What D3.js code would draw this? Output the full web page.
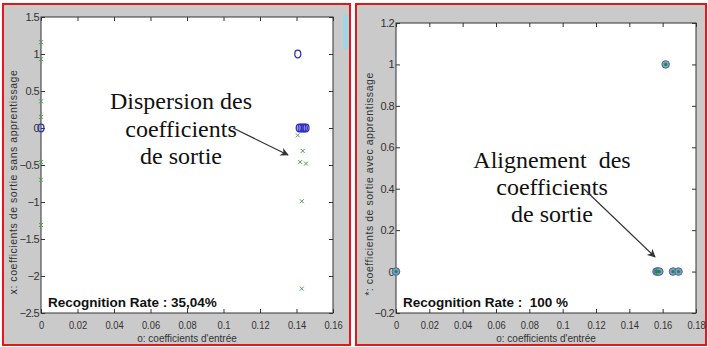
<!DOCTYPE html>
<html>
<head>
<meta charset="utf-8">
<script src="https://cdn.jsdelivr.net/npm/d3@7"></script>
<style>
  body { margin: 0; background: #fff; }
  svg { display: block; }
</style>
</head>
<body>
<svg id="chart" width="708" height="347"></svg>
<script>
// left panel data (without learning)
const leftXTicks = [0, 0.02, 0.04, 0.06, 0.08, 0.1, 0.12, 0.14, 0.16];
const leftYTicks = [1.5, 1, 0.5, 0, -0.5, -1, -1.5, -2, -2.5];
const leftCircles = [[0, 0], [0.1407, 1.0], [0.1415, 0], [0.1425, 0], [0.1435, 0], [0.1443, 0], [0.1452, 0]];
const leftCrosses = [
    [0, 1.16], [0, 0.93], [0, 0.36], [0, 0.15], [0, -0.46], [0, -0.70], [0, -1.31],
    [0.1407, -0.10], [0.1434, -0.31], [0.1420, -0.46], [0.1452, -0.48], [0.1429, -0.99], [0.1429, -2.17]
];

// right panel data (with learning)
const rightXTicks = [0, 0.02, 0.04, 0.06, 0.08, 0.1, 0.12, 0.14, 0.16, 0.18];
const rightYTicks = [1.2, 1, 0.8, 0.6, 0.4, 0.2, 0, -0.2];
const rightPoints = [[0, 0], [0.1618, 1.0], [0.1563, 0], [0.1571, 0], [0.1580, 0], [0.1662, 0], [0.1695, 0]];

const svg = d3.select('#chart');

let defs = svg.append('defs');
defs.append('marker')
    .attr('id', 'arrow')
    .attr('viewBox', '0 0 10 10')
    .attr('refX', 9).attr('refY', 5)
    .attr('markerWidth', 7).attr('markerHeight', 7)
    .attr('orient', 'auto')
  .append('path')
    .attr('d', 'M0,0 L10,5 L0,10 L3,5 Z')
    .attr('fill', '#333');

let drawPanel = (cfg) => {
    let g = svg.append('g');

    // figure background and red frame
    g.append('rect')
        .attr('x', cfg.frame[0]).attr('y', cfg.frame[1])
        .attr('width', cfg.frame[2]).attr('height', cfg.frame[3])
        .attr('fill', '#cacaca')
        .attr('stroke', '#e8141c').attr('stroke-width', 2);

    let x = d3.scaleLinear().domain(cfg.xDomain).range([cfg.plot[0], cfg.plot[2]]);
    let y = d3.scaleLinear().domain(cfg.yDomain).range([cfg.plot[3], cfg.plot[1]]);

    g.append('rect')
        .attr('x', cfg.plot[0]).attr('y', cfg.plot[1])
        .attr('width', cfg.plot[2] - cfg.plot[0]).attr('height', cfg.plot[3] - cfg.plot[1])
        .attr('fill', '#fff')
        .attr('stroke', '#333').attr('stroke-width', 1);

    // inward ticks on all sides, MATLAB style
    let tickStyle = sel => {
        sel.select('.domain').remove();
        sel.selectAll('.tick line').attr('stroke', '#333');
        sel.selectAll('.tick text')
            .attr('fill', '#333')
            .style('font-family', '"Liberation Sans", Arial, sans-serif')
            .style('font-size', '11px');
    };

    g.append('g')
        .attr('transform', `translate(0,${cfg.plot[3]})`)
        .call(d3.axisBottom(x).tickValues(cfg.xTicks).tickSizeInner(-4).tickSizeOuter(0).tickPadding(8).tickFormat(d3.format('')))
        .call(tickStyle)
        .selectAll('text').attr('transform', 'scale(0.85,1)');
    g.append('g')
        .attr('transform', `translate(0,${cfg.plot[1]})`)
        .call(d3.axisTop(x).tickValues(cfg.xTicks).tickSizeInner(-4).tickSizeOuter(0).tickFormat(''))
        .call(tickStyle);
    g.append('g')
        .attr('transform', `translate(${cfg.plot[0]},0)`)
        .call(d3.axisLeft(y).tickValues(cfg.yTicks).tickSizeInner(-4).tickSizeOuter(0).tickPadding(2).tickFormat(d3.format('')))
        .call(tickStyle)
        .selectAll('text').style('letter-spacing', '-0.6px');
    g.append('g')
        .attr('transform', `translate(${cfg.plot[2]},0)`)
        .call(d3.axisRight(y).tickValues(cfg.yTicks).tickSizeInner(-4).tickSizeOuter(0).tickFormat(''))
        .call(tickStyle);

    // axis titles
    g.append('text')
        .attr('x', (cfg.plot[0] + cfg.plot[2]) / 2)
        .attr('y', 342)
        .attr('text-anchor', 'middle')
        .attr('fill', '#333')
        .style('font-family', '"Liberation Sans", Arial, sans-serif')
        .style('font-size', '10px')
        .text("o: coefficients d'entrée");
    g.append('text')
        .attr('transform', `translate(${cfg.yLabelX},${cfg.yLabelY}) rotate(-90)`)
        .attr('text-anchor', 'middle')
        .attr('fill', '#333')
        .style('font-family', '"Liberation Sans", Arial, sans-serif')
        .style('font-size', '10.5px')
        .style('letter-spacing', '0.55px')
        .text(cfg.yLabel);

    // recognition rate
    g.append('text')
        .attr('x', cfg.plot[0] + 7)
        .attr('y', 307)
        .attr('fill', '#111')
        .style('font-family', '"Liberation Sans", Arial, sans-serif')
        .style('font-weight', 'bold')
        .style('font-size', '13.5px')
        .style('white-space', 'pre')
        .text(cfg.rate);

    // annotation
    let note = g.append('text')
        .attr('text-anchor', 'middle')
        .attr('fill', '#111')
        .style('font-family', '"Liberation Serif", "Times New Roman", serif')
        .style('font-size', '24px')
        .style('white-space', 'pre');
    cfg.note.forEach((line, i) => {
        note.append('tspan')
            .attr('x', cfg.noteX)
            .attr('y', cfg.noteY + i * cfg.noteStep)
            .text(line);
    });
    g.append('line')
        .attr('x1', cfg.arrow[0]).attr('y1', cfg.arrow[1])
        .attr('x2', cfg.arrow[2]).attr('y2', cfg.arrow[3])
        .attr('stroke', '#333').attr('stroke-width', 1.2)
        .attr('marker-end', 'url(#arrow)');

    return { g, x, y };
};

// left panel
let left = drawPanel({
    frame: [3, 4, 347, 341],
    plot: [41, 17, 333, 313],
    xDomain: [0, 0.16], yDomain: [-2.5, 1.5],
    xTicks: leftXTicks, yTicks: leftYTicks,
    yLabel: 'x: coefficients de sortie sans apprentissage',
    yLabelX: 17, yLabelY: 182,
    rate: 'Recognition Rate : 35,04%',
    note: ['Dispersion des', 'coefficients', 'de sortie'],
    noteX: 181, noteY: 109, noteStep: 27.5,
    arrow: [233, 128, 288, 155]
});

// small artifact at the right edge of the left screenshot
svg.append('rect').attr('x', 343).attr('y', 15).attr('width', 6).attr('height', 34).attr('fill', '#9fd6e2');

left.g.selectAll('.cross')
    .data(leftCrosses)
  .enter().append('path')
    .attr('class', 'cross')
    .attr('transform', d => `translate(${left.x(d[0])},${left.y(d[1])})`)
    .attr('d', 'M-2,-2L2,2M-2,2L2,-2')
    .attr('stroke', '#4f9f4f')
    .attr('stroke-width', 1);

left.g.selectAll('.circ')
    .data(leftCircles)
  .enter().append('ellipse')
    .attr('class', 'circ')
    .attr('cx', d => left.x(d[0]))
    .attr('cy', d => left.y(d[1]))
    .attr('rx', 3).attr('ry', 3.8)
    .attr('fill', 'none')
    .attr('stroke', '#3030c0')
    .attr('stroke-width', 1.3);

// right panel
let right = drawPanel({
    frame: [356, 4, 350, 341],
    plot: [396, 23, 696, 313],
    xDomain: [0, 0.18], yDomain: [-0.2, 1.2],
    xTicks: rightXTicks, yTicks: rightYTicks,
    yLabel: '*: coefficients de sortie avec apprentissage',
    yLabelX: 373, yLabelY: 184,
    rate: 'Recognition Rate :  100 %',
    note: ['Alignement  des', 'coefficients', 'de sortie'],
    noteX: 552, noteY: 168, noteStep: 27,
    arrow: [584, 189, 655, 257]
});

right.g.selectAll('.pt')
    .data(rightPoints)
  .enter().append('circle')
    .attr('class', 'pt')
    .attr('cx', d => right.x(d[0]))
    .attr('cy', d => right.y(d[1]))
    .attr('r', 3.8)
    .attr('fill', '#7f9cc4')
    .attr('stroke', '#4a68a6')
    .attr('stroke-width', 1);

right.g.selectAll('.dot')
    .data(rightPoints)
  .enter().append('circle')
    .attr('class', 'dot')
    .attr('cx', d => right.x(d[0]))
    .attr('cy', d => right.y(d[1]))
    .attr('r', 1.6)
    .attr('fill', '#1f8f2a');
</script>
</body>
</html>
